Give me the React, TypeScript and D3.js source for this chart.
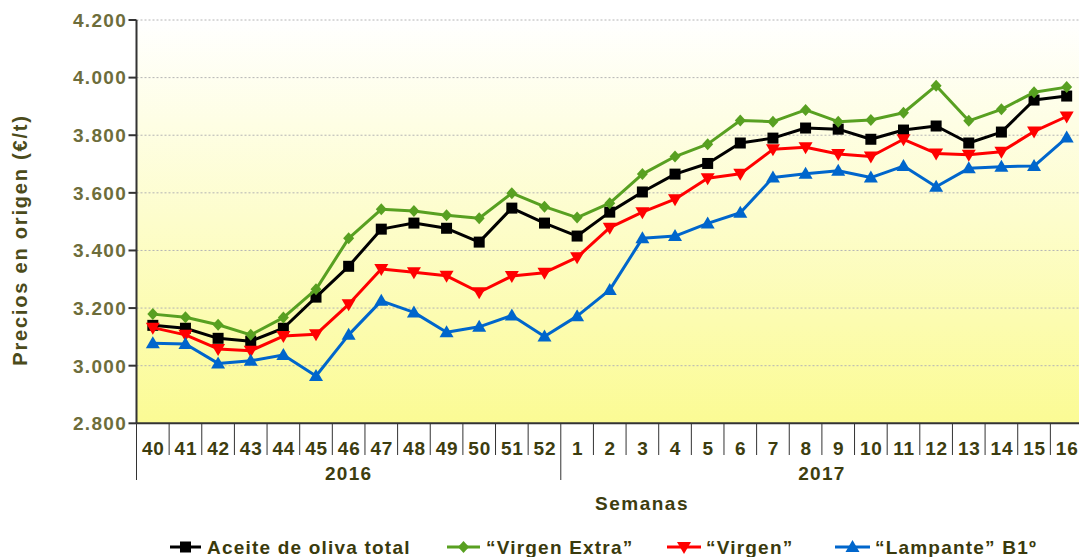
import React from "react";
import * as d3 from "d3";

const weeks = ["40","41","42","43","44","45","46","47","48","49","50","51","52","1","2","3","4","5","6","7","8","9","10","11","12","13","14","15","16"];
const years = [
  { label: "2016", from: 0, to: 13 },
  { label: "2017", from: 13, to: 29 },
];
const yTicks = [2800, 3000, 3200, 3400, 3600, 3800, 4000, 4200];

const aceiteTotal = [3140,3130,3095,3085,3130,3238,3345,3474,3495,3477,3429,3547,3495,3450,3533,3603,3665,3702,3773,3790,3825,3821,3786,3818,3832,3773,3811,3922,3936];
const virgenExtra = [3179,3168,3142,3107,3167,3265,3442,3543,3537,3522,3512,3599,3552,3514,3564,3665,3726,3769,3851,3847,3888,3847,3853,3878,3972,3850,3890,3949,3967];
const virgen = [3132,3107,3058,3052,3103,3109,3213,3336,3324,3312,3255,3311,3323,3376,3479,3533,3578,3651,3666,3751,3758,3735,3726,3786,3737,3732,3743,3813,3865];
const lampante = [3078,3075,3008,3017,3037,2964,3107,3225,3185,3116,3135,3174,3101,3172,3263,3442,3450,3494,3531,3653,3666,3677,3653,3693,3621,3685,3691,3693,3792];

const series = [
  { name: "Aceite de oliva total", values: aceiteTotal, color: "#000000", marker: "square" },
  { name: "\u201CVirgen Extra\u201D", values: virgenExtra, color: "#58a021", marker: "diamond" },
  { name: "\u201CVirgen\u201D", values: virgen, color: "#ff0000", marker: "tdown" },
  { name: "\u201CLampante\u201D B1\u00BA", values: lampante, color: "#0066cc", marker: "tup" },
];

const legendPos = [
  { line: [170, 201], text: 207 },
  { line: [447, 480], text: 486 },
  { line: [667, 701], text: 706 },
  { line: [835, 870], text: 875 },
];

const fmt = d3.formatLocale({ decimal: ",", thousands: ".", grouping: [3], currency: ["", "€"] }).format(",d");

function markerPath(kind: string): string {
  if (kind === "square") return "M-5.5,-5.5H5.5V5.5H-5.5Z";
  if (kind === "diamond") return "M0,-6L5.5,0L0,6L-5.5,0Z";
  if (kind === "tup") return "M0,-7L7,5L-7,5Z";
  return "M0,7L7,-5L-7,-5Z";
}

export default function App() {
  const W = 1079, H = 557;
  const left = 136.5, right = 1083, top = 20, bottom = 423.3;
  const x = d3.scaleBand<string>().domain(weeks).range([left, right]).padding(0);
  const y = d3.scaleLinear().domain([2800, 4200]).range([bottom, top]);
  const line = d3.line<number>().x((_, i) => (x(weeks[i]) as number) + x.bandwidth() / 2).y((d) => y(d));
  const font = "'Liberation Sans', Arial, sans-serif";
  const bw = x.bandwidth();

  return (
    <svg width={W} height={H} style={{ position: "absolute", left: 0, top: 0, background: "#fff" }} fontFamily={font}>
      <defs>
        <linearGradient id="bg" x1="0" y1="0" x2="0" y2="1">
          <stop offset="0" stopColor="#ffffff" />
          <stop offset="0.5" stopColor="#fdfdcb" />
          <stop offset="1" stopColor="#fbfb94" />
        </linearGradient>
      </defs>
      <rect x={left} y={top} width={right - left} height={bottom - top} fill="url(#bg)" />
      {yTicks.map((t) => (
        <g key={t}>
          {t > 2800 && (
            <line x1={left} x2={right} y1={y(t)} y2={y(t)} stroke="#b4b4b4" strokeWidth={1} strokeDasharray="2,2" />
          )}
          <line x1={left - 8} x2={left} y1={y(t)} y2={y(t)} stroke="#333" strokeWidth={2} />
          <text x={127} y={y(t)} dy="0.36em" textAnchor="end" fontSize={19} letterSpacing={1.3} fontWeight="bold" fill="#6d6d3b">
            {fmt(t)}
          </text>
        </g>
      ))}
      <line x1={left} x2={left} y1={top} y2={bottom} stroke="#333" strokeWidth={2} />
      <line x1={left} x2={right} y1={bottom} y2={bottom} stroke="#333" strokeWidth={2} />
      {weeks.map((w, i) => {
        const x0 = x(w) as number;
        const isLong = years.some((yr) => yr.from === i);
        return (
          <g key={w}>
            <line x1={x0} x2={x0} y1={bottom} y2={isLong ? 480 : 455} stroke="#333" strokeWidth={1} />
            <text x={x0 + bw / 2 + 0.5} y={448} dy="0.36em" textAnchor="middle" fontSize={19} letterSpacing={0.8} fontWeight="bold" fill="#3d3d0f">
              {w}
            </text>
          </g>
        );
      })}
      {years.map((yr) => {
        const a = x(weeks[yr.from]) as number;
        const b = yr.to < weeks.length ? (x(weeks[yr.to]) as number) : right;
        return (
          <text key={yr.label} x={(a + b) / 2} y={473} dy="0.36em" textAnchor="middle" fontSize={19} letterSpacing={1.3} fontWeight="bold" fill="#3d3d0f">
            {yr.label}
          </text>
        );
      })}
      <line x1={right} x2={right} y1={bottom} y2={480} stroke="#333" strokeWidth={1} />
      <text x={642} y={503} dy="0.36em" textAnchor="middle" fontSize={19} letterSpacing={1.5} fontWeight="bold" fill="#3d3d0f">
        Semanas
      </text>
      <text transform="translate(20,240) rotate(-90)" textAnchor="middle" dy="0.36em" fontSize={20} letterSpacing={1.8} fontWeight="bold" fill="#4b4b1b">
        Precios en origen (€/t)
      </text>
      {series.map((s) => (
        <g key={s.name}>
          <path d={line(s.values) as string} fill="none" stroke={s.color} strokeWidth={3} strokeLinejoin="round" />
          {s.values.map((v, i) => (
            <path key={i} d={markerPath(s.marker)} transform={`translate(${(x(weeks[i]) as number) + bw / 2},${y(v)})`} fill={s.color} />
          ))}
        </g>
      ))}
      {series.map((s, k) => {
        const lp = legendPos[k];
        const cx = (lp.line[0] + lp.line[1]) / 2;
        return (
          <g key={s.name}>
            <line x1={lp.line[0]} x2={lp.line[1]} y1={547} y2={547} stroke={s.color} strokeWidth={3} />
            <path d={markerPath(s.marker)} transform={`translate(${cx},547)`} fill={s.color} />
            <text x={lp.text} y={547} dy="0.36em" fontSize={19} letterSpacing={1.2} fontWeight="bold" fill="#3a3a0c">
              {s.name}
            </text>
          </g>
        );
      })}
    </svg>
  );
}
